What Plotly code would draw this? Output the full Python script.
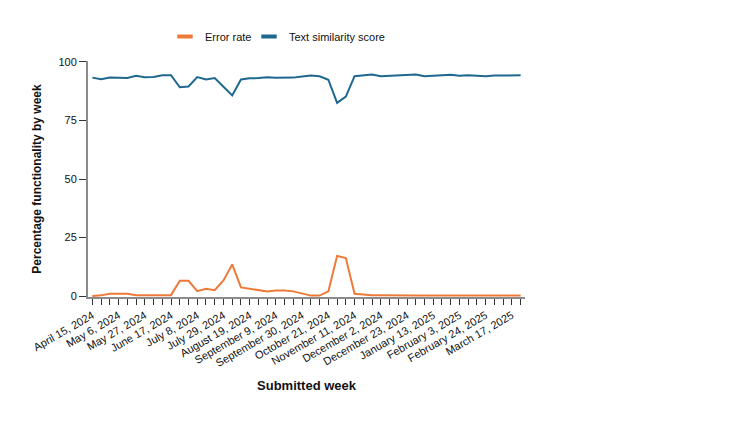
import pandas as pd
import plotly.graph_objects as go

weeks = pd.date_range("2024-04-15", periods=50, freq="7D")

text_similarity = [
    93.3, 92.6, 93.3, 93.2, 93.1, 94.1, 93.5, 93.6, 94.3, 94.3,
    89.2, 89.5, 93.5, 92.5, 93.1, 89.4, 85.7, 92.5, 93.0, 93.1,
    93.5, 93.2, 93.1, 93.3, 93.8, 94.2, 93.9, 92.4, 82.5, 85.2,
    93.9, 94.3, 94.6, 93.9, 94.1, 94.1, 94.6, 94.6, 93.9, 94.1,
    94.2, 94.5, 94.1, 94.3, 94.1, 93.9, 94.2, 94.3, 94.3, 94.3,
]
error_rate = [
    0.0, 0.3, 1.0, 1.0, 1.0, 0.4, 0.5, 0.4, 0.4, 0.4,
    6.5, 6.5, 2.1, 3.1, 2.5, 6.7, 13.5, 3.7, 3.1, 2.5,
    2.0, 2.4, 2.4, 2.0, 1.0, 0.2, 0.2, 2.0, 17.1, 16.2,
    1.0, 0.5, 0.3, 0.3, 0.2, 0.2, 0.2, 0.2, 0.2, 0.3,
    0.2, 0.2, 0.2, 0.2, 0.2, 0.2, 0.2, 0.2, 0.2, 0.2,
]

ORANGE = "#EE7A3A"
BLUE = "#1E6890"
FONT = "Liberation Sans, Arial, sans-serif"
WEEK_MS = 7 * 86400000

fig = go.Figure()
fig.add_trace(go.Scatter(x=weeks, y=text_similarity, mode="lines",
                         line=dict(color=BLUE, width=2), showlegend=False,
                         name="Text similarity score"))
fig.add_trace(go.Scatter(x=weeks, y=error_rate, mode="lines",
                         line=dict(color=ORANGE, width=2), showlegend=False,
                         name="Error rate"))
# legend entries (short thick dashes), one legend box per entry
for name, col, lg in [("Error rate", ORANGE, "legend"),
                      ("Text similarity score", BLUE, "legend2")]:
    fig.add_trace(go.Scatter(x=[None], y=[None], mode="markers", name=name,
                             legend=lg,
                             marker=dict(symbol="line-ew", size=11,
                                         line=dict(color=col, width=4))))

legend_common = dict(orientation="h", xref="container", yref="container",
                     xanchor="left", yanchor="top",
                     font=dict(size=11, color="#111"), itemwidth=30,
                     bgcolor="rgba(0,0,0,0)")

fig.update_layout(
    width=750, height=422,
    margin=dict(l=88, r=225, t=61, b=125, autoexpand=False),
    paper_bgcolor="white", plot_bgcolor="white",
    font=dict(family=FONT, size=11, color="#111"),
    legend=dict(x=165 / 750, y=1 - 22 / 422, **legend_common),
    legend2=dict(x=249 / 750, y=1 - 22 / 422, **legend_common),
    xaxis=dict(
        type="date",
        range=["2024-04-11 12:00", "2025-03-27 12:00"],
        tick0="2024-04-15", dtick=3 * WEEK_MS,
        tickformat="%B %-d, %Y", tickangle=-30,
        ticks="outside", ticklen=6, tickcolor="#333", tickwidth=1,
        minor=dict(tick0="2024-04-15", dtick=WEEK_MS, ticks="outside",
                   ticklen=6, tickcolor="#333", tickwidth=1, showgrid=False),
        showline=True, linecolor="#8a8a8a", linewidth=2,
        showgrid=False, zeroline=False,
        tickfont=dict(size=11, color="#111"),
        title=dict(text="Submitted week", font=dict(size=13, weight="bold", color="#111"),
                   standoff=13),
    ),
    yaxis=dict(
        range=[-0.4, 100.4],
        tickvals=[0, 25, 50, 75, 100],
        ticks="outside", ticklen=7, tickcolor="#333", tickwidth=1,
        showline=True, linecolor="#8a8a8a", linewidth=2,
        showgrid=False, zeroline=False,
        tickfont=dict(size=11, color="#111"),
        title=dict(text="Percentage functionality by week",
                   font=dict(size=12, weight="bold", color="#111"), standoff=14),
    ),
)

fig.write_html("out.html")
